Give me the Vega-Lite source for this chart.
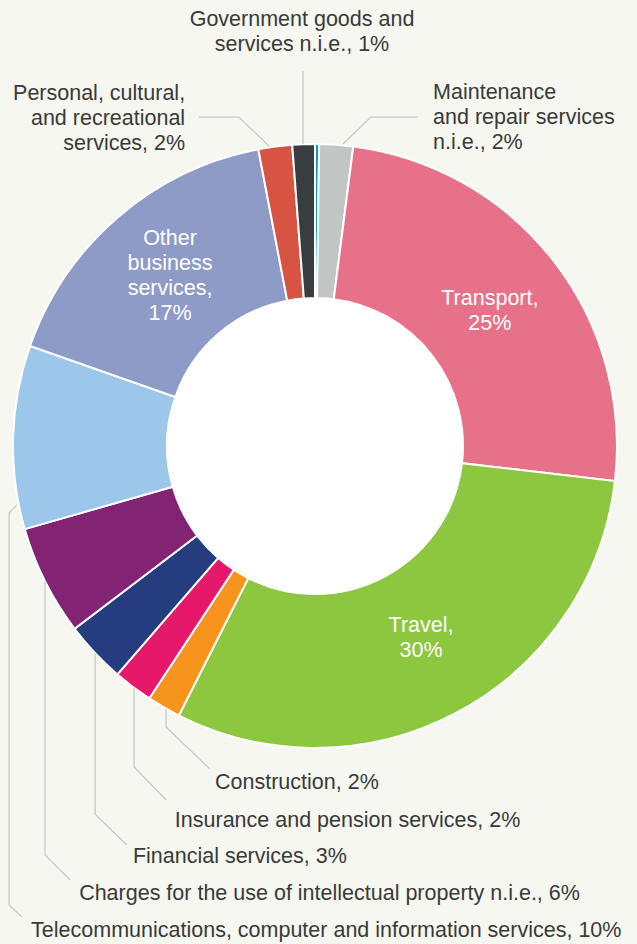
{
  "$schema": "https://vega.github.io/schema/vega-lite/v6.json",
  "width": 630,
  "height": 892,
  "autosize": {"type": "none"},
  "padding": {"left": 0, "top": 0, "right": 7, "bottom": 52},
  "background": "#f5f7f0",
  "config": {"view": {"stroke": null}},
  "datasets": {
    "slices": [
      {"name": "Unallocated", "value": 0.22, "order": 1},
      {"name": "Maintenance and repair services n.i.e.", "value": 1.8, "order": 2},
      {"name": "Transport", "value": 24.8, "order": 3},
      {"name": "Travel", "value": 30.55, "order": 4},
      {"name": "Construction", "value": 1.8, "order": 5},
      {"name": "Insurance and pension services", "value": 2.1, "order": 6},
      {"name": "Financial services", "value": 3.3, "order": 7},
      {"name": "Charges for the use of intellectual property n.i.e.", "value": 5.9, "order": 8},
      {"name": "Telecommunications, computer and information services", "value": 9.8, "order": 9},
      {"name": "Other business services", "value": 16.6, "order": 10},
      {"name": "Personal, cultural, and recreational services", "value": 1.8, "order": 11},
      {"name": "Government goods and services n.i.e.", "value": 1.2, "order": 12}
    ],
    "leaders": [
      {"id": "gov", "seq": 1, "x": -3.97, "y": 124.2},
      {"id": "gov", "seq": 2, "x": -3.97, "y": 100.0},
      {"id": "pers", "seq": 1, "x": -38.4, "y": 108.9},
      {"id": "pers", "seq": 2, "x": -25.2, "y": 108.9},
      {"id": "pers", "seq": 3, "x": -15.2, "y": 99.3},
      {"id": "maint", "seq": 1, "x": 34.1, "y": 108.9},
      {"id": "maint", "seq": 2, "x": 18.5, "y": 108.9},
      {"id": "maint", "seq": 3, "x": 9.3, "y": 100.0},
      {"id": "cons", "seq": 1, "x": -49.3, "y": -87.0},
      {"id": "cons", "seq": 2, "x": -49.3, "y": -93.0},
      {"id": "cons", "seq": 3, "x": -34.8, "y": -107.0},
      {"id": "ins", "seq": 1, "x": -59.9, "y": -80.1},
      {"id": "ins", "seq": 2, "x": -59.9, "y": -106.3},
      {"id": "ins", "seq": 3, "x": -49.3, "y": -117.2},
      {"id": "fin", "seq": 1, "x": -72.8, "y": -68.6},
      {"id": "fin", "seq": 2, "x": -72.8, "y": -121.9},
      {"id": "fin", "seq": 3, "x": -62.3, "y": -132.1},
      {"id": "ip", "seq": 1, "x": -89.4, "y": -44.8},
      {"id": "ip", "seq": 2, "x": -89.4, "y": -135.4},
      {"id": "ip", "seq": 3, "x": -81.1, "y": -143.7},
      {"id": "tel", "seq": 1, "x": -98.7, "y": -19.5},
      {"id": "tel", "seq": 2, "x": -101.3, "y": -22.2},
      {"id": "tel", "seq": 3, "x": -101.3, "y": -152.0},
      {"id": "tel", "seq": 4, "x": -97.0, "y": -156.0}
    ],
    "labelsInside": [
      {"label": "Transport,\n25%", "x": 57.9, "y": 46.7},
      {"label": "Travel,\n30%", "x": 35.1, "y": -61.6},
      {"label": "Other\nbusiness\nservices,\n17%", "x": -48.0, "y": 66.6}
    ],
    "labelsCentered": [
      {"label": "Government goods and\nservices n.i.e., 1%", "x": -4.3, "y": 139.1}
    ],
    "labelsRightAligned": [
      {"label": "Personal, cultural,\nand recreational\nservices, 2%", "x": -43.0, "y": 114.6}
    ],
    "labelsLeftAligned": [
      {"label": "Maintenance\nand repair services\nn.i.e., 2%", "x": 39.1, "y": 114.9},
      {"label": "Construction, 2%", "x": -33.1, "y": -113.6},
      {"label": "Insurance and pension services, 2%", "x": -46.4, "y": -126.2},
      {"label": "Financial services, 3%", "x": -60.3, "y": -138.1},
      {"label": "Charges for the use of intellectual property n.i.e., 6%", "x": -78.1, "y": -150.3},
      {"label": "Telecommunications, computer and information services, 10%", "x": -94.0, "y": -162.6}
    ]
  },
  "layer": [
    {
      "data": {"values": [{"k": "hole"}]},
      "mark": {"type": "arc", "radius": 150, "theta": 0, "theta2": 6.2832, "fill": "#ffffff"},
      "encoding": {}
    },
    {
      "data": {"name": "slices"},
      "mark": {"type": "arc", "radius": 302, "radius2": 148, "stroke": "#ffffff", "strokeWidth": 2},
      "encoding": {
        "theta": {"field": "value", "type": "quantitative", "stack": true},
        "order": {"field": "order", "type": "quantitative"},
        "color": {
          "field": "name",
          "type": "nominal",
          "legend": null,
          "scale": {
            "domain": [
              "Unallocated",
              "Maintenance and repair services n.i.e.",
              "Transport",
              "Travel",
              "Construction",
              "Insurance and pension services",
              "Financial services",
              "Charges for the use of intellectual property n.i.e.",
              "Telecommunications, computer and information services",
              "Other business services",
              "Personal, cultural, and recreational services",
              "Government goods and services n.i.e."
            ],
            "range": ["#0a9bd9", "#c1c5c3", "#e8718a", "#8dc63f", "#f7941e", "#e5186b", "#253c7e", "#822373", "#9cc7ea", "#8e9bc6", "#d75443", "#393d3f"]
          }
        }
      }
    },
    {
      "data": {"name": "leaders"},
      "mark": {"type": "line", "stroke": "#c9cac8", "strokeWidth": 1.3, "interpolate": "linear"},
      "encoding": {
        "x": {"field": "x", "type": "quantitative", "scale": {"domain": [-104.3, 104.3], "nice": false, "zero": false}, "axis": null},
        "y": {"field": "y", "type": "quantitative", "scale": {"domain": [-147.68, 147.68], "nice": false, "zero": false}, "axis": null},
        "detail": {"field": "id", "type": "nominal"},
        "order": {"field": "seq", "type": "quantitative"}
      }
    },
    {
      "data": {"name": "labelsInside"},
      "mark": {"type": "text", "lineBreak": "\n", "lineHeight": 25, "font": "Liberation Sans", "fontSize": 21.5, "fill": "#ffffff", "align": "center", "baseline": "alphabetic"},
      "encoding": {
        "x": {"field": "x", "type": "quantitative"},
        "y": {"field": "y", "type": "quantitative"},
        "text": {"field": "label", "type": "nominal"}
      }
    },
    {
      "data": {"name": "labelsCentered"},
      "mark": {"type": "text", "lineBreak": "\n", "lineHeight": 25, "font": "Liberation Sans", "fontSize": 21.5, "fill": "#3a3a3a", "align": "center", "baseline": "alphabetic"},
      "encoding": {
        "x": {"field": "x", "type": "quantitative"},
        "y": {"field": "y", "type": "quantitative"},
        "text": {"field": "label", "type": "nominal"}
      }
    },
    {
      "data": {"name": "labelsRightAligned"},
      "mark": {"type": "text", "lineBreak": "\n", "lineHeight": 25, "font": "Liberation Sans", "fontSize": 21.5, "fill": "#3a3a3a", "align": "right", "baseline": "alphabetic"},
      "encoding": {
        "x": {"field": "x", "type": "quantitative"},
        "y": {"field": "y", "type": "quantitative"},
        "text": {"field": "label", "type": "nominal"}
      }
    },
    {
      "data": {"name": "labelsLeftAligned"},
      "mark": {"type": "text", "lineBreak": "\n", "lineHeight": 25, "font": "Liberation Sans", "fontSize": 21.5, "fill": "#3a3a3a", "align": "left", "baseline": "alphabetic"},
      "encoding": {
        "x": {"field": "x", "type": "quantitative"},
        "y": {"field": "y", "type": "quantitative"},
        "text": {"field": "label", "type": "nominal"}
      }
    }
  ]
}
